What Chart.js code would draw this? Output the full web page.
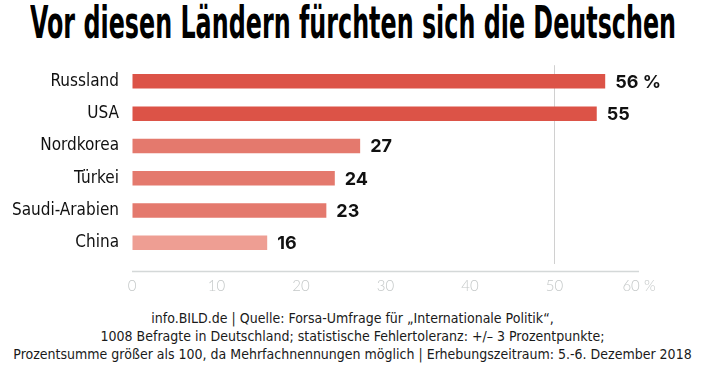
<!DOCTYPE html>
<html>
<head>
<meta charset="utf-8">
<script src="https://cdn.jsdelivr.net/npm/chart.js@4"></script>
<style>
  body { margin: 0; width: 705px; height: 368px; background: #fff; overflow: hidden; position: relative; }
  #title { position: absolute; left: 0; top: 0; width: 705px; height: 50px; white-space: nowrap;
           font-family: "DejaVu Sans", sans-serif; font-stretch: condensed; font-weight: bold; font-size: 44px; line-height: 50px; color: #000; }
  #title span { position: absolute; left: 30px; top: -2px; transform-origin: left center; }
  #wrap { position: absolute; left: 0; top: 50px; width: 705px; height: 250px; }
  #foot { position: absolute; left: 0; top: 309px; width: 705px; text-align: center; color: #1a1a1a;
          font-family: "DejaVu Sans", sans-serif; font-stretch: condensed; font-size: 14px; line-height: 18px; white-space: nowrap; }
</style>
</head>
<body>
<div id="title"><span id="titleText">Vor diesen Ländern fürchten sich die Deutschen</span></div>
<div id="wrap"><canvas id="chart"></canvas></div>
<div id="foot">
  info.BILD.de | Quelle: Forsa-Umfrage für „Internationale Politik“,<br>
  1008 Befragte in Deutschland; statistische Fehlertoleranz: +/– 3 Prozentpunkte;<br>
  Prozentsumme größer als 100, da Mehrfachnennungen möglich | Erhebungszeitraum: 5.-6. Dezember 2018
</div>
<script>
// Daten
const countries = [ 'Russland', 'USA', 'Nordkorea', 'Türkei', 'Saudi-Arabien', 'China' ];
const shares = [ 56, 55, 27, 24, 23, 16 ];
const valueLabels = [ '56 %', '55', '27', '24', '23', '16' ];
const xTicks = [ 0, 10, 20, 30, 40, 50, 60 ];
const barColors = [ '#dc5347', '#dc5347', '#e4796d', '#e4796d', '#e4796d', '#ee9e93' ];

// Titel auf Breite stauchen (schmale Schrift)
function fitTitle() {
	const t = document.getElementById( 'titleText' );
	t.style.transform = 'scaleX(' + ( 646 / t.offsetWidth ) + ')';
}
fitTitle();
if ( document.fonts ) {
	document.fonts.ready.then( fitTitle );
}

const valueLabelPlugin = {
	id: 'valueLabels',
	afterDatasetsDraw( chart ) {
		const ctx = chart.ctx;
		const meta = chart.getDatasetMeta( 0 );
		ctx.save();
		ctx.font = 'bold 18px Inter, "Open Sans", sans-serif';
		ctx.fillStyle = '#111';
		ctx.textBaseline = 'middle';
		ctx.textAlign = 'left';
		meta.data.forEach( ( bar, i ) => {
			ctx.fillText( valueLabels[ i ], bar.x + 10, bar.y + 1 );
		} );
		ctx.restore();
	},
};

const axisLinePlugin = {
	id: 'axisLine',
	afterDraw( chart ) {
		const ctx = chart.ctx;
		const x = chart.scales.x;
		const y = chart.chartArea.bottom + 12.5;
		ctx.save();
		ctx.strokeStyle = '#d4d8d8';
		ctx.lineWidth = 1.5;
		ctx.beginPath();
		ctx.moveTo( x.getPixelForValue( 0 ), y );
		ctx.lineTo( x.getPixelForValue( 60 ), y );
		ctx.stroke();
		ctx.restore();
	},
};

new Chart( document.getElementById( 'chart' ), {
	type: 'bar',
	data: {
		labels: countries,
		datasets: [
			{
				data: shares,
				backgroundColor: barColors,
				borderWidth: 0,
				barPercentage: 0.45,
				categoryPercentage: 1,
			},
		],
	},
	options: {
		indexAxis: 'y',
		responsive: true,
		maintainAspectRatio: false,
		animation: false,
		layout: { padding: { top: -6, right: 66, left: 0, bottom: 0 } },
		plugins: {
			legend: { display: false },
			tooltip: { enabled: false },
		},
		scales: {
			x: {
				min: 0,
				max: 60,
				afterBuildTicks( scale ) {
					scale.ticks = xTicks.map( ( v ) => ( { value: v } ) );
				},
				afterFit( scale ) {
					scale.height = 41;
				},
				border: { display: false },
				grid: {
					color: ( c ) => ( c.tick && c.tick.value === 50 ? '#d0d0d0' : 'rgba(0,0,0,0)' ),
					lineWidth: 1,
					tickLength: 5,
				},
				ticks: {
					padding: 13,
					color: '#c4c8c8',
					font: { family: 'Lato, "Open Sans", sans-serif', size: 15, weight: '300' },
					callback: ( v ) => ( v === 60 ? '60 %' : String( v ) ),
				},
			},
			y: {
				afterFit( scale ) {
					scale.width = 132;
				},
				border: { display: false },
				grid: { display: false },
				ticks: {
					padding: 5,
					color: '#111',
					font: { family: '"DejaVu Sans", sans-serif', size: 17, weight: 'condensed' },
				},
			},
		},
	},
	plugins: [ valueLabelPlugin, axisLinePlugin ],
} );
</script>
</body>
</html>
